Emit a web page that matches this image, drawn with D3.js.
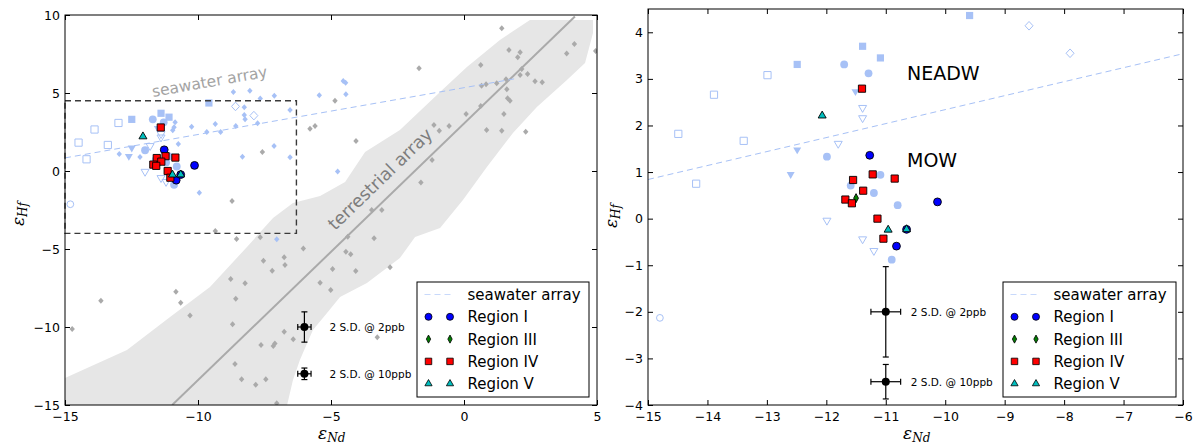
<!DOCTYPE html>
<html>
<head>
<meta charset="utf-8">
<script src="https://cdn.jsdelivr.net/npm/d3@7"></script>
<style>
  body { margin: 0; background: #fff; }
  svg { display: block; font-family: "DejaVu Sans", sans-serif; }
</style>
</head>
<body>
<svg id="chart" width="1197" height="445"></svg>
<script>
// ---------- data ----------
const xTicksLeft = [-15, -10, -5, 0, 5];
const yTicksLeft = [-15, -10, -5, 0, 5, 10];
const xTicksRight = [-15, -14, -13, -12, -11, -10, -9, -8, -7, -6];
const yTicksRight = [-4, -3, -2, -1, 0, 1, 2, 3, 4];

// regression lines (end points, eNd / eHf)
const seawaterArray = [[-15, 0.84], [2.0, 5.94]];
const terrestrialArray = [[-10.97, -15], [4.17, 9.9]];

// envelope around the terrestrial array
const terrestrialEnvelope = [
  [-15, -15], [-15, -13.27], [-12.67, -11.47], [-11.05, -9.36], [-9.55, -7.44],
  [-8.16, -4.87], [-7.18, -3.01], [-6.43, -2.05], [-5.41, -1.6], [-4.47, -0.71],
  [-3.72, 1.22], [-2.41, 2.63], [-0.9, 5.06], [0.11, 6.67], [1.35, 8.4],
  [2.48, 9.68], [4.85, 9.68], [4.85, 8.85], [4.55, 6.92], [3.87, 5.83],
  [2.74, 4.1], [1.84, 2.44], [0.86, 0.26], [-0.04, -1.86], [-0.9, -3.65],
  [-1.84, -4.23], [-2.41, -5.58], [-3.65, -7.18], [-4.66, -8.08], [-5.15, -9.1],
  [-5.68, -10.19], [-6.17, -12.12], [-6.43, -13.4], [-6.65, -15]
];

// terrestrial samples
const terrestrialSamples = [
  [-4.85, 4.51], [-5.6, 2.88], [-5.79, 2.71], [-4.06, 1.92], [-7.58, 1.22], [-8.72, -1.92],
  [-9.35, -3.85], [1.42, 9.15], [1.69, 7.76], [2.11, 7.61], [2.02, 7.29], [3.86, 7.54],
  [4.15, 8.14], [4.95, 7.69], [0.63, 6.79], [2.17, 6.54], [2.11, 6.15], [2.39, 6.22],
  [2.67, 5.75], [2.94, 5.69], [1.58, 5.88], [1.23, 5.62], [0.83, 5.56], [0.66, 5.47],
  [1.61, 5.24], [1.64, 4.66], [1.73, 4.51], [0.63, 4.17], [0.08, 3.65], [1.5, 3.65],
  [0.85, 2.63], [1.42, 2.58], [2.32, 2.52], [-0.56, 2.88], [-0.93, 2.58], [-1.13, 2.95],
  [-1.69, 6.58], [-1.2, 0.71], [-1.62, -0.73], [-3.09, -2.5], [-3.47, -2.5], [-3.38, -4.31],
  [-4.37, -4.21], [-8.55, -4.36], [-7.66, -4.25], [-6.04, -4.96], [-7.54, -5.75],
  [-6.76, -5.53], [-6.73, -6.03], [-7.21, -6.39], [-8.77, -6.92], [-8.23, -7.2],
  [-8.58, -8.19], [-10.83, -7.74], [-10.65, -8.44], [-10.3, -9.27], [-13.65, -8.31],
  [-14.73, -10.13], [-8.7, -9.83], [-6.76, -10.3], [-6.42, -10.79], [-7.63, -11.15],
  [-7.11, -11.05], [-7.17, -11.22], [-8.61, -12.37], [-8.36, -13.35], [-7.83, -13.7],
  [-7.45, -13.35], [-7.04, -14.89], [-5.41, -7.16], [-5.01, -7.63], [-4.94, -6.28],
  [-4.44, -5.17], [-4.26, -5.34], [-4.07, -6.41], [-2.78, -6.17], [-3.26, -10.66]
];

// published seawater samples
const seawaterSmall = [
  [-8.67, 5.06], [-8.05, 5.15], [-7.66, 4.64], [-7.13, 4.83], [-5.44, 4.85], [-4.44, 4.92],
  [-4.54, 5.77], [-4.45, 5.66], [-8.26, 4.08], [-8.26, 3.59], [-8.23, 3.31], [-6.54, 3.91],
  [-7.76, 3.06], [-8.58, 2.88], [-9.35, 3.01], [-9.15, 2.5], [-9.67, 2.5], [-10.24, 2.84],
  [-10.86, 3.12], [-10.9, 2.8], [-10.95, 2.62], [-10.74, 1.73], [-7.14, 1.6], [-8.33, 0.92],
  [-6.54, 0.88], [-12.96, 1.09], [-12.18, 0.9], [-9.95, -1.39], [-4.75, -0.04], [-7.04, -4.38]
];
const swOpenSquare = [[-14.49, 1.82], [-13.89, 2.66], [-12.99, 3.08], [-13.39, 1.67], [-14.19, 0.75]];
const swSquare = [[-12.49, 3.31], [-11.39, 3.7], [-11.09, 3.45], [-9.59, 4.36]];
const swCircle = [[-11.7, 3.31], [-11.29, 3.12], [-11.99, 1.33], [-11.59, 0.71], [-11.09, 0.94],
  [-11.2, 0.55], [-10.8, 0.29], [-10.9, -0.88]];
const swOpenCircle = [[-14.8, -2.13]];
const swTriDown = [[-11.51, 2.73], [-12.49, 1.48], [-12.6, 0.95]];
const swOpenTriDown = [[-11.39, 2.38], [-11.39, 2.16], [-11.8, 1.61], [-11.99, -0.04],
  [-11.39, -0.44], [-11.2, -0.69]];
const swOpenDiamond = [[-8.59, 4.14], [-7.9, 3.55]];

// this study
const regionI = [[-11.27, 1.36], [-10.13, 0.36], [-10.82, -0.59], [-10.65, -0.23]];
const regionIII = [[-11.5, 0.44]];
const regionIV = [[-11.4, 2.79], [-11.55, 0.83], [-11.22, 0.95], [-10.85, 0.86], [-11.38, 0.6],
  [-11.68, 0.41], [-11.57, 0.33], [-11.14, 0.0], [-11.04, -0.43]];
const regionV = [[-12.07, 2.21], [-10.96, -0.24], [-10.65, -0.23]];

// reproducibility
const errorBarsLeft = [
  { x: -6, y: -10, xe: 0.25, ye: 0.97, label: "2 S.D. @ 2ppb" },
  { x: -6, y: -13, xe: 0.25, ye: 0.37, label: "2 S.D. @ 10ppb" }
];
const errorBarsRight = [
  { x: -11, y: -2, xe: 0.25, ye: 0.97, label: "2 S.D. @ 2ppb" },
  { x: -11, y: -3.5, xe: 0.25, ye: 0.37, label: "2 S.D. @ 10ppb" }
];

const zoomBox = [[-15, -4], [-6.3, 4.5]];

const legendLabels = ["seawater array", "Region I", "Region III", "Region IV", "Region V"];

// ---------- styles ----------
const LIGHT = "#a7c1f6";
const GREY = "#aaaaaa";
const regionStyles = [
  { data: regionI, shape: "circle", fill: "#0000ff" },
  { data: regionIII, shape: "thinDiamond", fill: "#008000" },
  { data: regionIV, shape: "square", fill: "#ff0000" },
  { data: regionV, shape: "triUp", fill: "#00bfbf" }
];

function markerPath(shape) {
  switch (shape) {
    case "circle": return d3.symbol(d3.symbolCircle, 48)();
    case "smallCircle": return d3.symbol(d3.symbolCircle, 36)();
    case "square": { const h = 3.6; return `M${-h},${-h}H${h}V${h}H${-h}Z`; }
    case "triUp": return "M0,-4.6L4,2.3L-4,2.3Z";
    case "triDown": return "M0,4.6L4,-2.3L-4,-2.3Z";
    case "thinDiamond": return "M0,-4.5L2.4,0L0,4.5L-2.4,0Z";
    case "smallDiamond": return "M0,-3L2.7,0L0,3L-2.7,0Z";
    case "openDiamond": return "M0,-4.3L4,0L0,4.3L-4,0Z";
  }
}

const svg = d3.select("#chart");

const panels = [
  { id: "L", xd: [-15, 5], yd: [-15, 10], xr: [65, 597], yr: [405, 15],
    xt: xTicksLeft, yt: yTicksLeft, full: true, errs: errorBarsLeft,
    legend: { x: 417, y: 282, w: 172, h: 115 },
    xlab: [318, 439], ylab: [24, 226] },
  { id: "R", xd: [-15, -6], yd: [-4, 4.5], xr: [648, 1183], yr: [405, 9],
    xt: xTicksRight, yt: yTicksRight, full: false, errs: errorBarsRight,
    legend: { x: 1003, y: 282, w: 173, h: 115 },
    xlab: [903, 439], ylab: [617, 228] }
];

panels.forEach(p => {
  const x = d3.scaleLinear().domain(p.xd).range(p.xr);
  const y = d3.scaleLinear().domain(p.yd).range(p.yr);
  const g = svg.append("g");

  const clipId = "clip" + p.id;
  svg.append("clipPath").attr("id", clipId).append("rect")
    .attr("x", p.xr[0]).attr("y", p.yr[1])
    .attr("width", p.xr[1] - p.xr[0]).attr("height", p.yr[0] - p.yr[1]);

  const plot = g.append("g").attr("clip-path", `url(#${clipId})`);
  const line = d3.line().x(d => x(d[0])).y(d => y(d[1]));

  const pts = (data, shape, fill, stroke, sw) => {
    plot.append("g").selectAll("path").data(data).join("path")
      .attr("d", markerPath(shape))
      .attr("transform", d => `translate(${x(d[0])},${y(d[1])})`)
      .attr("fill", fill).attr("stroke", stroke).attr("stroke-width", sw);
  };

  if (p.full) {
    plot.append("path").datum(terrestrialEnvelope)
      .attr("d", line.curve(d3.curveLinearClosed))
      .attr("fill", "#e6e6e6").attr("stroke", "none");
    line.curve(d3.curveLinear);
    plot.append("path").datum(terrestrialArray).attr("d", line)
      .attr("stroke", "#aaaaaa").attr("stroke-width", 2).attr("fill", "none");
    pts(terrestrialSamples, "smallDiamond", GREY, "none", 0);
    // zoom box
    g.append("rect")
      .attr("x", x(zoomBox[0][0])).attr("y", y(zoomBox[1][1]))
      .attr("width", x(zoomBox[1][0]) - x(zoomBox[0][0]))
      .attr("height", y(zoomBox[0][1]) - y(zoomBox[1][1]))
      .attr("fill", "none").attr("stroke", "#3a3a3a").attr("stroke-width", 1.4)
      .attr("stroke-dasharray", "6,4");
    g.append("text").text("seawater array")
      .attr("transform", "translate(153,97) rotate(-10)")
      .attr("font-size", 15.5).attr("fill", "#a3a3a3");
    g.append("text").text("terrestrial array")
      .attr("transform", "translate(335,231) rotate(-44)")
      .attr("font-size", 17.5).attr("fill", "#7d7d7d");
  }

  plot.append("path").datum(seawaterArray).attr("d", line)
    .attr("stroke", LIGHT).attr("stroke-width", 1).attr("fill", "none")
    .attr("stroke-dasharray", "6,4");

  if (p.full) pts(seawaterSmall, "smallDiamond", LIGHT, "none", 0);
  pts(swOpenSquare, "square", "none", LIGHT, 1);
  pts(swSquare, "square", LIGHT, "none", 0);
  pts(swCircle, "circle", LIGHT, "none", 0);
  pts(swOpenCircle, "smallCircle", "none", LIGHT, 1);
  pts(swTriDown, "triDown", LIGHT, "none", 0);
  pts(swOpenTriDown, "triDown", "none", LIGHT, 1);
  pts(swOpenDiamond, "openDiamond", "none", LIGHT, 1);

  regionStyles.forEach(r => pts(r.data, r.shape, r.fill, "#000", 0.9));

  // error bars
  const eb = g.append("g");
  p.errs.forEach(e => {
    const cx = x(e.x), cy = y(e.y);
    const segs = [
      [x(e.x - e.xe), cy, x(e.x + e.xe), cy],
      [cx, y(e.y - e.ye), cx, y(e.y + e.ye)],
      [x(e.x - e.xe), cy - 3, x(e.x - e.xe), cy + 3],
      [x(e.x + e.xe), cy - 3, x(e.x + e.xe), cy + 3],
      [cx - 3, y(e.y - e.ye), cx + 3, y(e.y - e.ye)],
      [cx - 3, y(e.y + e.ye), cx + 3, y(e.y + e.ye)]
    ];
    segs.forEach(s => eb.append("line").attr("x1", s[0]).attr("y1", s[1])
      .attr("x2", s[2]).attr("y2", s[3]).attr("stroke", "#000").attr("stroke-width", 1.2));
    eb.append("circle").attr("cx", cx).attr("cy", cy).attr("r", 4).attr("fill", "#000");
    eb.append("text").text(e.label).attr("x", cx + 25).attr("y", cy + 4)
      .attr("font-size", 10.5).attr("fill", "#000");
  });

  if (!p.full) {
    g.append("text").text("NEADW").attr("x", 907).attr("y", 80)
      .attr("font-size", 19).attr("fill", "#000");
    g.append("text").text("MOW").attr("x", 907).attr("y", 166.5)
      .attr("font-size", 19).attr("fill", "#000");
  }

  // axes: ticks inside on all four sides
  const fmt = d3.format("d");
  const axisStyle = sel => {
    sel.select(".domain").remove();
    sel.selectAll(".tick line").attr("stroke", "#000").attr("stroke-width", 1);
    sel.selectAll("text").attr("font-size", 12.5).attr("fill", "#000")
      .attr("font-family", "DejaVu Sans, sans-serif");
  };
  g.append("g").attr("transform", `translate(0,${p.yr[0]})`)
    .call(d3.axisBottom(x).tickValues(p.xt).tickFormat(fmt).tickSizeInner(-5).tickSizeOuter(0).tickPadding(7))
    .call(axisStyle);
  g.append("g").attr("transform", `translate(0,${p.yr[1]})`)
    .call(d3.axisTop(x).tickValues(p.xt).tickFormat("").tickSizeInner(-5).tickSizeOuter(0))
    .call(axisStyle);
  g.append("g").attr("transform", `translate(${p.xr[0]},0)`)
    .call(d3.axisLeft(y).tickValues(p.yt).tickFormat(fmt).tickSizeInner(-5).tickSizeOuter(0).tickPadding(5))
    .call(axisStyle);
  g.append("g").attr("transform", `translate(${p.xr[1]},0)`)
    .call(d3.axisRight(y).tickValues(p.yt).tickFormat("").tickSizeInner(-5).tickSizeOuter(0))
    .call(axisStyle);

  g.append("rect").attr("x", p.xr[0]).attr("y", p.yr[1])
    .attr("width", p.xr[1] - p.xr[0]).attr("height", p.yr[0] - p.yr[1])
    .attr("fill", "none").attr("stroke", "#000").attr("stroke-width", 1);

  // axis labels
  const xl = g.append("text").attr("x", p.xlab[0]).attr("y", p.xlab[1])
    .attr("font-family", "DejaVu Serif, serif").attr("font-style", "italic").attr("font-size", 17);
  xl.append("tspan").text("ε");
  xl.append("tspan").text("Nd").attr("font-size", 12).attr("dy", 3);
  const yl = g.append("text").attr("transform", `translate(${p.ylab[0]},${p.ylab[1]}) rotate(-90)`)
    .attr("font-family", "DejaVu Serif, serif").attr("font-style", "italic").attr("font-size", 17);
  yl.append("tspan").text("ε");
  yl.append("tspan").text("Hf").attr("font-size", 12).attr("dy", 3);

  // legend
  const L = p.legend;
  const lg = g.append("g");
  lg.append("rect").attr("x", L.x).attr("y", L.y).attr("width", L.w).attr("height", L.h)
    .attr("fill", "#fff").attr("stroke", "#000").attr("stroke-width", 1);
  const rowY = i => L.y + 12.5 + i * 22.3;
  const m1 = L.x + 11.5, m2 = L.x + 33, tx = L.x + 50.5;
  lg.append("line").attr("x1", m1 - 4).attr("x2", m2 + 4).attr("y1", rowY(0)).attr("y2", rowY(0))
    .attr("stroke", "#c8d9fb").attr("stroke-width", 1).attr("stroke-dasharray", "6,4");
  regionStyles.forEach((r, i) => {
    [m1, m2].forEach(mx => lg.append("path").attr("d", markerPath(r.shape))
      .attr("transform", `translate(${mx},${rowY(i + 1)}) scale(0.9)`)
      .attr("fill", r.fill).attr("stroke", "#000").attr("stroke-width", 0.9));
  });
  legendLabels.forEach((t, i) => lg.append("text").text(t)
    .attr("x", tx).attr("y", rowY(i)).attr("dy", "0.36em")
    .attr("font-size", 15).attr("fill", "#000"));
});
</script>
</body>
</html>
